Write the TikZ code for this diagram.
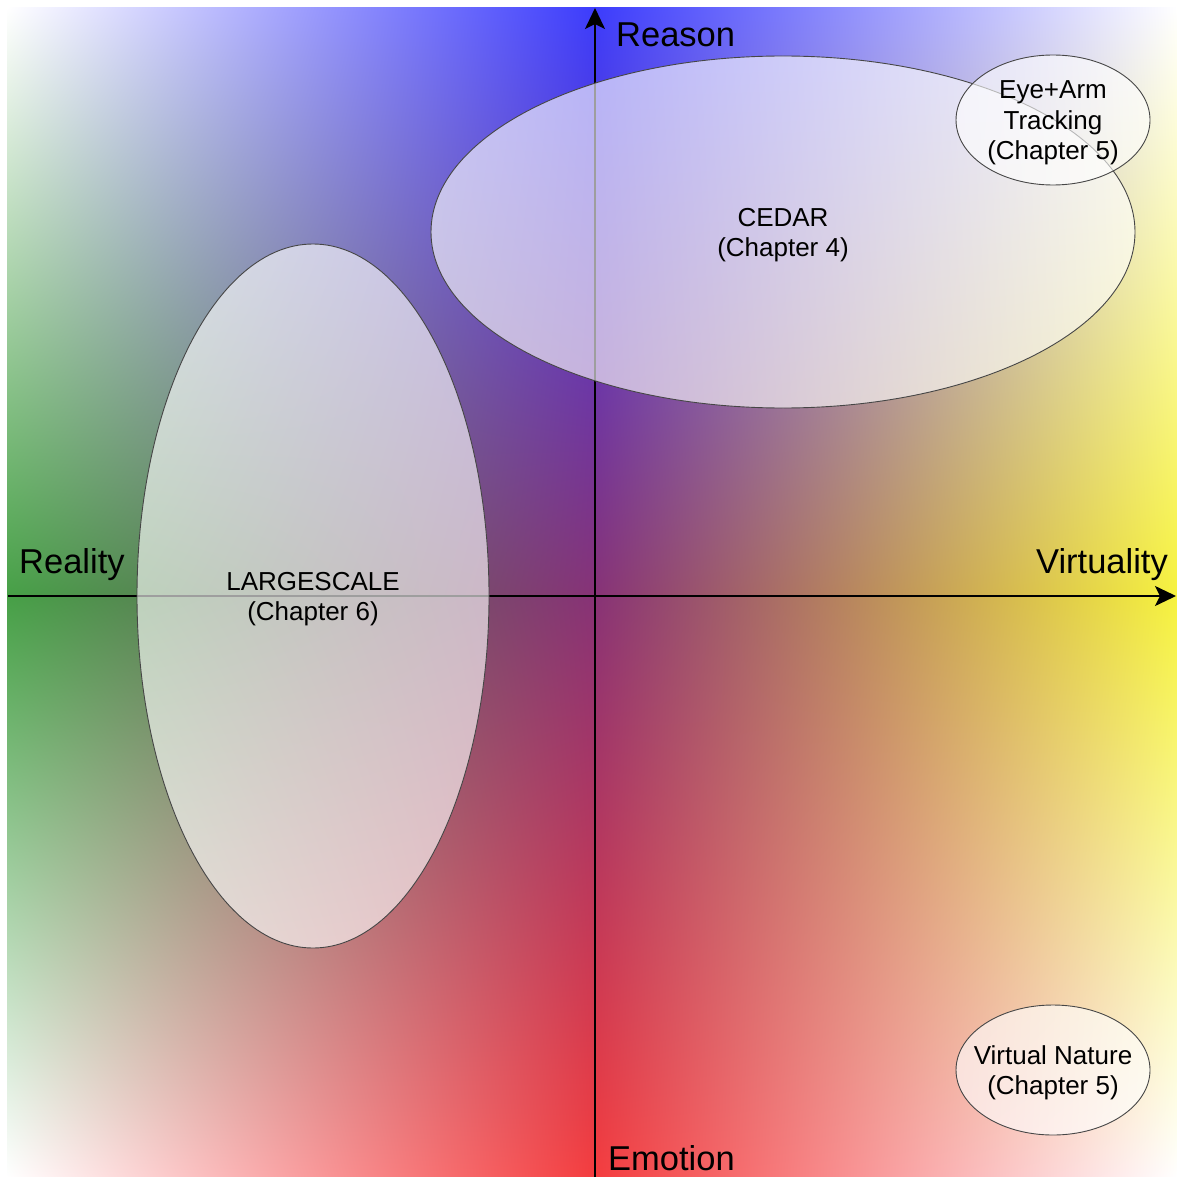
\documentclass[tikz,border=0pt]{standalone}
\usepackage{fontspec}
\setmainfont{Liberation Sans}
\usetikzlibrary{shapes.geometric,arrows.meta,shadings}
\definecolor{cblue}{RGB}{60,60,252}
\definecolor{cred}{RGB}{244,60,62}
\definecolor{cgreen}{RGB}{70,160,70}
\definecolor{cyellow}{RGB}{246,242,62}
\definecolor{ccenter}{RGB}{135,50,118}
\definecolor{edgegray}{RGB}{70,70,70}
\tikzset{
  axisline/.style={line width=2pt, draw=black, -{Stealth[length=21pt,width=20pt,inset=5pt]}},
  axislabel/.style={font=\fontsize{34.5}{40}\selectfont, inner sep=0pt},
  topic/.style={ellipse, draw=edgegray, line width=0.9pt, fill=white, fill opacity=0.62,
    inner sep=0pt},
  topictext/.style={inner sep=0pt, align=center, yshift=-3pt, font=\fontsize{26}{30.5}\selectfont}
}
\begin{document}
\begin{tikzpicture}[x=1pt,y=-1pt]
\useasboundingbox (0,0) rectangle (1176,1177);
% background quadrants
\shade[upper left=white, upper right=cblue, lower left=cgreen, lower right=ccenter] (7,8) rectangle (595.5,596.5);
\shade[upper left=cblue, upper right=white, lower left=ccenter, lower right=cyellow] (594.5,8) rectangle (1177,596.5);
\shade[upper left=cgreen, upper right=ccenter, lower left=white, lower right=cred] (7,595.5) rectangle (595.5,1177);
\shade[upper left=ccenter, upper right=cyellow, lower left=cred, lower right=white] (594.5,595.5) rectangle (1177,1177);
% axes
\coordinate (xs) at (8,596);
\coordinate (xe) at (1176,596);
\coordinate (ys) at (595,1177);
\coordinate (ye) at (595,8);
\draw[axisline] (xs) -- (xe);
\draw[axisline] (ys) -- (ye);
% axis labels
\node[axislabel, anchor=base west] (reason) at (616,47) {Reason};
\node[axislabel, anchor=base east] (virtuality) at (1168,573) {Virtuality};
\node[axislabel, anchor=base west] (reality) at (19,573) {Reality};
\node[axislabel, anchor=base west] (emotion) at (608,1170) {Emotion};
% topic ellipses
\node[topic, minimum width=704pt, minimum height=352pt] (cedar) at (783,232) {};
\node[topictext] (cedartext) at (cedar) {CEDAR\\(Chapter 4)};
\node[topic, minimum width=194pt, minimum height=130pt] (eyearm) at (1053,120) {};
\node[topictext] (eyearmtext) at (eyearm) {Eye+Arm\\Tracking\\(Chapter 5)};
\node[topic, minimum width=352pt, minimum height=704pt] (largescale) at (313,596) {};
\node[topictext] (largescaletext) at (largescale) {LARGESCALE\\(Chapter 6)};
\node[topic, minimum width=194pt, minimum height=130pt] (nature) at (1053,1070) {};
\node[topictext] (naturetext) at (nature) {Virtual Nature\\(Chapter 5)};
\end{tikzpicture}
\end{document}
